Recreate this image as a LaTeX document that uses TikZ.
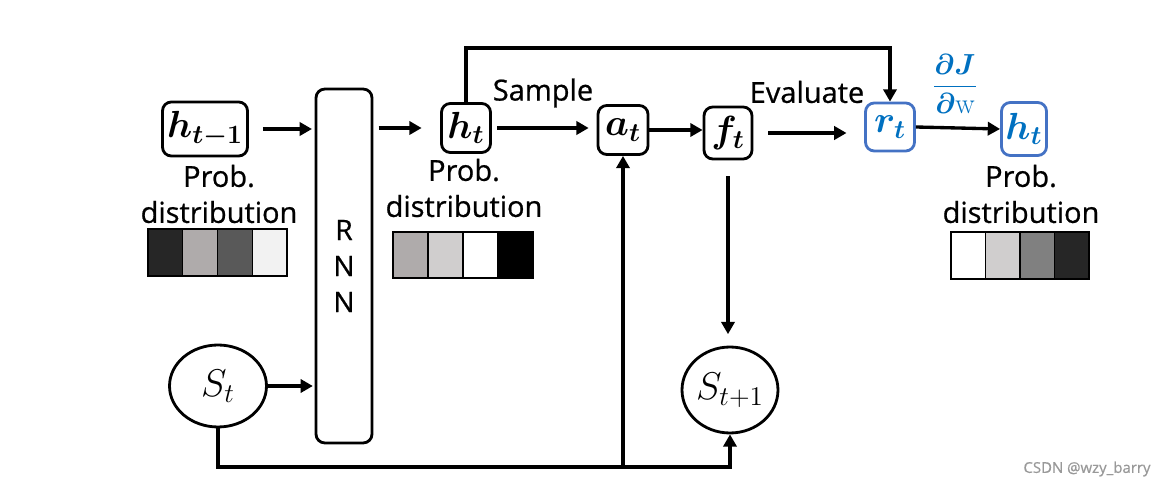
\RequirePackage{fix-cm}
\documentclass[tikz,border=0pt]{standalone}
\usepackage{amsmath,bm}
\usepackage{fontspec}
\newfontfamily\labelfont[FakeBold=0.7]{Open Sans}
\usetikzlibrary{arrows.meta,positioning,shapes.geometric}
\definecolor{rewardBlue}{HTML}{4472C4}
\definecolor{gradBlue}{HTML}{0070C0}
\definecolor{cellDark}{HTML}{262626}
\definecolor{cellMid}{HTML}{595959}
\definecolor{cellGray}{HTML}{808080}
\definecolor{cellWarm}{HTML}{AFABAB}
\definecolor{cellLight}{HTML}{D0CECE}
\definecolor{cellPale}{HTML}{F2F2F2}

\begin{document}
\begin{tikzpicture}[x=0.02cm,y=-0.02cm,
        box/.style={draw,line width=1.6pt,rounded corners=5pt,inner sep=0pt,
        font=\fontsize{21.5}{26}\selectfont},
        bluebox/.style={box,draw=rewardBlue,text=gradBlue},
        state/.style={ellipse,draw,line width=1.6pt,inner sep=0pt,font=\fontsize{22}{26}\selectfont},
        lbl/.style={align=center,inner sep=0pt,font=\labelfont\fontsize{16.5}{20.5}\selectfont},
        arrow/.style={-{Triangle[length=7pt,width=7.5pt]},line width=1.9pt},
        cell/.style={line width=0.8pt}]
    \useasboundingbox (0,0) rectangle (1161,486);
    % nodes
    \node[box,minimum width=1.7cm,minimum height=1.08cm] (hprev) at (205,129) {$\bm{h}_{\bm{t-1}}$};
    \node[lbl] (hprevlbl) at (219,194) {Prob.\\distribution};
    \node[box,minimum width=1.12cm,minimum height=7.08cm,align=center,
        font=\labelfont\fontsize{16}{20.5}\selectfont] (rnn) at (344,266) {R\\N\\N};
    \node[box,minimum width=0.98cm,minimum height=0.98cm] (ht) at (466,128) {$\bm{h}_{\bm{t}}$};
    \node[lbl] (htlbl) at (464,188) {Prob.\\distribution};
    \node[box,minimum width=1cm,minimum height=0.98cm] (at) at (623,130) {$\bm{a}_{\bm{t}}$};
    \node[box,minimum width=0.96cm,minimum height=1.04cm] (ft) at (728,133) {$\bm{f}_{\bm{t}}$};
    \node[bluebox,minimum width=0.98cm,minimum height=0.96cm] (rt) at (890,127) {$\bm{r}_{\bm{t}}$};
    \node[bluebox,minimum width=0.9cm,minimum height=1.06cm] (hnext) at (1024,129) {$\bm{h}_{\bm{t}}$};
    \node[lbl] (hnextlbl) at (1021,194) {Prob.\\distribution};
    \node[state,minimum width=1.94cm,minimum height=1.64cm] (st) at (218,386) {$S_t$};
    \node[state,minimum width=1.92cm,minimum height=1.72cm] (st1) at (730,390) {$S_{t+1}$};
    \node[lbl] (sample) at (543,93) {Sample};
    \node[lbl] (evaluate) at (807,92) {Evaluate};
    \node[inner sep=0pt,text=gradBlue,font=\fontsize{16.5}{20}\selectfont] (grad) at (955,84)
        {$\dfrac{\bm{\partial J}}{\bm{\partial}\mathrm{w}}$};
    \node[inner sep=0pt,text=black!40,font=\labelfont\fontsize{8.5}{10}\selectfont] (mark) at (1087,469) {CSDN @wzy\_barry};
    \coordinate (loop) at (890,48);
    \coordinate (base) at (0,467);
    % probability bars
    \foreach \shade [count=\i from 0] in {cellDark,cellWarm,cellMid,cellPale}
        \filldraw[cell,fill=\shade] (148+\i*34.75,229) rectangle ++(34.75,47);
    \foreach \shade [count=\i from 0] in {cellWarm,cellLight,white,black}
        \filldraw[cell,fill=\shade] (393+\i*35,232) rectangle ++(35,46);
    \foreach \shade [count=\i from 0] in {white,cellLight,cellGray,cellDark}
        \filldraw[cell,fill=\shade] (951+\i*34.5,232) rectangle ++(34.5,47);
    % connectors
    \draw[arrow,shorten <=8pt,shorten >=1.5pt] (hprev.east) -- (hprev.east -| rnn.west);
    \draw[arrow,shorten <=3pt,shorten >=10.5pt] (rnn.east |- ht) -- (ht.west);
    \draw[arrow,line width=2.4pt,shorten <=3pt,shorten >=4.5pt] (ht.east) -- (ht.east -| at.west);
    \draw[arrow] (at.east) -- (at.east -| ft.west);
    \draw[arrow,shorten <=8.5pt,shorten >=10pt] (ft.east) -- (ft.east -| rt.west);
    \draw[arrow] (rt.east) -- (hnext.west);
    \draw[arrow] (ht.north) |- (loop) -- (rt.north);
    \draw[arrow,shorten <=9pt,shorten >=6.5pt] (ft.south) -- (ft.south |- st1.north);
    \draw[arrow,shorten >=1pt] (st.east) -- (st.east -| rnn.west);
    \draw[arrow,line width=2.3pt] (st.south) -- (st.south |- base) -| (st1.south);
    \draw[arrow,line width=2.3pt] (at.south |- base) -- (at.south);
\end{tikzpicture}
\end{document}
